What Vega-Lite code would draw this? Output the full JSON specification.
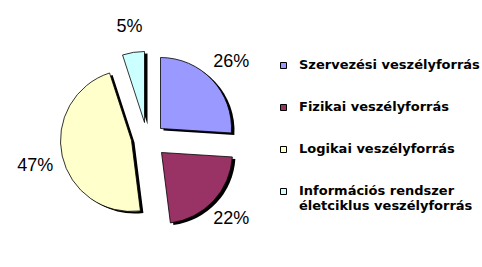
{
  "$schema": "https://vega.github.io/schema/vega-lite/v6.json",
  "autosize": "none",
  "padding": {"left": 0, "top": 14, "right": 187, "bottom": 0},
  "width": 295,
  "height": 253,
  "background": "white",
  "config": {"view": {"stroke": null}},
  "data": {"values": [
    {"i": 0, "category": "Szervezési veszélyforrás", "value": 26, "label": "26%"},
    {"i": 1, "category": "Fizikai veszélyforrás", "value": 22, "label": "22%"},
    {"i": 2, "category": "Logikai veszélyforrás", "value": 47, "label": "47%"},
    {"i": 3, "category": "Információs rendszer életciklus veszélyforrás", "value": 5, "label": "5%"}
  ]},
  "transform": [
    {"stack": "value", "groupby": [], "sort": [{"field": "i", "order": "ascending"}], "as": ["v0", "v1"]}
  ],
  "layer": [
    {
      "transform": [{"filter": "datum.i == 0"}],
      "mark": {"type": "arc", "radius": 71, "xOffset": 16, "yOffset": -10, "color": "black"},
      "encoding": {"theta": {"field": "v0", "type": "quantitative", "scale": {"domain": [0, 100]}}, "theta2": {"field": "v1"}}
    },
    {
      "transform": [{"filter": "datum.i == 1"}],
      "mark": {"type": "arc", "radius": 71, "xOffset": 17, "yOffset": 14, "color": "black"},
      "encoding": {"theta": {"field": "v0", "type": "quantitative", "scale": {"domain": [0, 100]}}, "theta2": {"field": "v1"}}
    },
    {
      "transform": [{"filter": "datum.i == 2"}],
      "mark": {"type": "arc", "radius": 71, "xOffset": -13, "yOffset": 2, "color": "black"},
      "encoding": {"theta": {"field": "v0", "type": "quantitative", "scale": {"domain": [0, 100]}}, "theta2": {"field": "v1"}}
    },
    {
      "transform": [{"filter": "datum.i == 3"}],
      "mark": {"type": "arc", "radius": 71, "xOffset": 0, "yOffset": -16, "color": "black"},
      "encoding": {"theta": {"field": "v0", "type": "quantitative", "scale": {"domain": [0, 100]}}, "theta2": {"field": "v1"}}
    },
    {
      "transform": [{"filter": "datum.i == 0"}],
      "mark": {"type": "arc", "radius": 71, "xOffset": 13, "yOffset": -12, "stroke": "black", "strokeWidth": 0.8},
      "encoding": {
        "theta": {"field": "v0", "type": "quantitative", "scale": {"domain": [0, 100]}},
        "theta2": {"field": "v1"},
        "color": {
          "field": "category", "type": "nominal",
          "scale": {
            "domain": ["Szervezési veszélyforrás", "Fizikai veszélyforrás", "Logikai veszélyforrás", "Információs rendszer életciklus veszélyforrás"],
            "range": ["#9999FF", "#993366", "#FFFFCC", "#CCFFFF"]
          },
          "legend": {
            "orient": "none", "legendX": 277, "legendY": 45, "title": null, "padding": 0,
            "symbolType": "square", "symbolSize": 36, "symbolStrokeColor": "black", "symbolStrokeWidth": 1,
            "labelFont": "DejaVu Sans", "labelFontWeight": "bold", "labelFontSize": 13, "labelColor": "black",
            "labelLimit": 300, "labelOffset": 9, "rowPadding": 28, "labelBaseline": "top",
            "labelExpr": "datum.label == 'Információs rendszer életciklus veszélyforrás' ? ['Információs rendszer', 'életciklus veszélyforrás'] : datum.label",
            "encode": {"labels": {"update": {"dy": {"value": -7}}}}
          }
        }
      }
    },
    {
      "transform": [{"filter": "datum.i == 1"}],
      "mark": {"type": "arc", "radius": 71, "xOffset": 14, "yOffset": 12, "stroke": "black", "strokeWidth": 0.8},
      "encoding": {
        "theta": {"field": "v0", "type": "quantitative", "scale": {"domain": [0, 100]}},
        "theta2": {"field": "v1"},
        "color": {"field": "category", "type": "nominal"}
      }
    },
    {
      "transform": [{"filter": "datum.i == 2"}],
      "mark": {"type": "arc", "radius": 71, "xOffset": -16, "yOffset": 0, "stroke": "black", "strokeWidth": 0.8},
      "encoding": {
        "theta": {"field": "v0", "type": "quantitative", "scale": {"domain": [0, 100]}},
        "theta2": {"field": "v1"},
        "color": {"field": "category", "type": "nominal"}
      }
    },
    {
      "transform": [{"filter": "datum.i == 3"}],
      "mark": {"type": "arc", "radius": 71, "xOffset": -3, "yOffset": -18, "stroke": "black", "strokeWidth": 0.8},
      "encoding": {
        "theta": {"field": "v0", "type": "quantitative", "scale": {"domain": [0, 100]}},
        "theta2": {"field": "v1"},
        "color": {"field": "category", "type": "nominal"}
      }
    },
    {
      "mark": {"type": "text", "radius": 115, "font": "Liberation Sans", "fontSize": 18, "color": "black"},
      "encoding": {
        "theta": {"field": "value", "type": "quantitative", "stack": true},
        "order": {"field": "i", "type": "quantitative"},
        "detail": {"field": "category", "type": "nominal"},
        "text": {"field": "label", "type": "nominal"}
      }
    }
  ]
}
